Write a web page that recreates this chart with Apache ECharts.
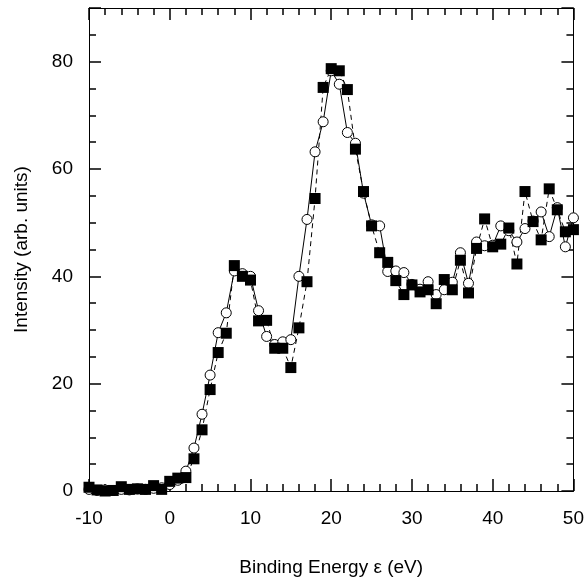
<!DOCTYPE html>
<html>
<head>
<meta charset="utf-8">
<script src="https://cdn.jsdelivr.net/npm/echarts@6/dist/echarts.min.js"></script>
<style>html,body{margin:0;padding:0;background:#fff}#c{width:587px;height:584px}</style>
</head>
<body>
<div id="c"></div>
<script>
var energies = [-10,-9,-8,-7,-6,-5,-4,-3,-2,-1,0,1,2,3,4,5,6,7,8,9,10,11,12,13,14,15,16,17,18,19,20,21,22,23,24,25,26,27,28,29,30,31,32,33,34,35,36,37,38,39,40,41,42,43,44,45,46,47,48,49,50];
var squareValues = [0.7,0.2,0,0.1,0.8,0.3,0.4,0.3,1.0,0.3,1.8,2.4,2.5,6.0,11.4,18.9,25.8,29.4,42.0,40.0,39.3,31.7,31.8,26.6,26.6,23.0,30.4,39.0,54.5,75.2,78.7,78.3,74.8,63.7,55.8,49.4,44.4,42.6,39.2,36.6,38.4,37.1,37.5,34.9,39.4,37.5,43.0,36.9,45.2,50.7,45.5,46.0,49.0,42.3,55.8,50.2,46.8,56.3,52.4,48.3,48.7];
var circleValues = [0.3,0.1,0.2,0.1,0.3,0.2,0.4,0.3,0.5,0.6,1.2,2.0,3.7,8.0,14.3,21.6,29.5,33.2,41.0,40.5,40.0,33.6,28.8,27.3,27.8,28.2,40.0,50.6,63.2,68.8,78.3,75.8,66.8,64.8,55.5,49.6,49.4,40.9,41.0,40.7,38.5,37.6,39.0,36.6,37.5,38.9,44.4,38.7,46.4,45.7,45.8,49.4,48.5,46.4,48.9,50.3,52.0,47.4,52.8,45.5,50.9];
var xTicks = [-10,0,10,20,30,40,50];
var yTicks = [0,20,40,60,80];

function pairs(xs, ys){ return xs.map(function(x,i){ return [x, ys[i]]; }); }

var font = 'Liberation Sans, Arial, Helvetica, sans-serif';

function baseAxis(pos, min, max, interval, len, showLine){
  return {type:'value', position:pos, min:min, max:max, interval:interval,
    axisLine:{show:showLine, onZero:false, lineStyle:{color:'#000', width:1}},
    axisTick:{show:true, inside:true, length:len, lineStyle:{color:'#000', width:1.5}},
    splitLine:{show:false},
    axisLabel:{show:true, color:'rgba(0,0,0,0)', formatter:function(){ return ''; }}};
}

var mainY = baseAxis('left', 0, 90, 20, 12, true);
mainY.axisLabel = {show:true, margin:16, color:'#000', fontSize:19, fontFamily:font,
  formatter:function(v){ return yTicks.indexOf(v) >= 0 ? String(v) : ''; }};
mainY.name = 'Intensity (arb. units)';
mainY.nameLocation = 'middle';
mainY.nameGap = 67;
mainY.nameRotate = 90;
mainY.nameTextStyle = {color:'#000', fontSize:19, fontFamily:font, verticalAlign:'middle'};

var mainX = baseAxis('bottom', -10, 50, 10, 12, true);
mainX.axisLabel = {show:true, margin:18, color:'#000', fontSize:19, fontFamily:font,
  formatter:function(v){ return xTicks.indexOf(v) >= 0 ? String(v) : ''; }};
mainX.name = 'Binding Energy ε (eV)';
mainX.nameLocation = 'middle';
mainX.nameGap = 77;
mainX.nameTextStyle = {color:'#000', fontSize:19, fontFamily:font, verticalAlign:'middle'};

var chart = echarts.init(document.getElementById('c'), null, {renderer:'canvas'});
chart.setOption({
  animation:false,
  grid:{left:89, right:12, top:8, bottom:93},
  xAxis:[
    mainX,
    baseAxis('bottom', -10, 50, 2, 7, false),
    baseAxis('top', -10, 50, 10, 12, true),
    baseAxis('top', -10, 50, 2, 7, false)
  ],
  yAxis:[
    mainY,
    baseAxis('left', 0, 90, 5, 7, false),
    baseAxis('right', 0, 90, 20, 12, true),
    baseAxis('right', 0, 90, 5, 7, false)
  ],
  series:[
    {type:'line', name:'circles', xAxisIndex:0, yAxisIndex:0, data:pairs(energies, circleValues),
     symbol:'circle', symbolSize:10, showAllSymbol:true,
     lineStyle:{color:'#000', width:1, type:'solid'},
     itemStyle:{color:'#fff', borderColor:'#000', borderWidth:1}},
    {type:'line', name:'squares', xAxisIndex:0, yAxisIndex:0, data:pairs(energies, squareValues),
     symbol:'rect', symbolSize:11, showAllSymbol:true,
     lineStyle:{color:'#000', width:1, type:[5,4]},
     itemStyle:{color:'#000', borderColor:'#000', borderWidth:0}}
  ]
});
</script>
</body>
</html>
